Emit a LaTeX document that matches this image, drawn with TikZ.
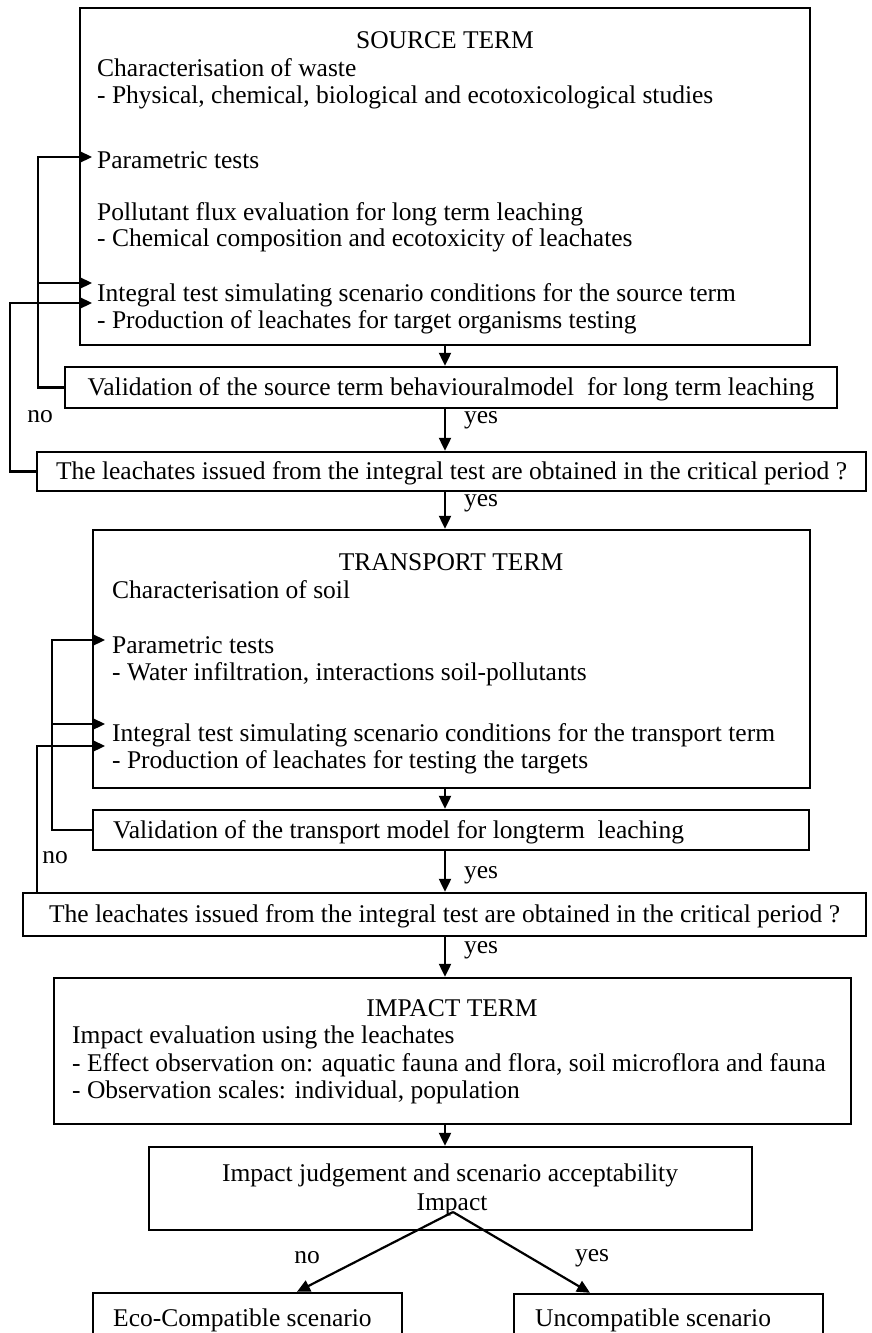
\documentclass[tikz,border=0pt]{standalone}
\usepackage{fontspec}
\setmainfont{Liberation Serif}
\usetikzlibrary{arrows.meta,fit,calc}

\begin{document}
\begin{tikzpicture}[x=1pt,y=-1pt,
  box/.style={draw, line width=2.4pt, inner sep=0pt},
  txt/.style={anchor=base west, inner sep=0pt, font=\fontsize{25.5}{30}\selectfont},
  ctxt/.style={anchor=base, inner sep=0pt, font=\fontsize{25.5}{30}\selectfont},
  lbl/.style={anchor=center, inner sep=0pt, font=\fontsize{25.5}{30}\selectfont},
  arr/.style={line width=2.2pt, -{Triangle[length=13pt,width=12pt]}}]

\clip (0,0) rectangle (872,1333);
\useasboundingbox (0,0) rectangle (872,1333);

% ---------- source term ----------
\node[box, fit={(80,8) (810,345)}] (src) {};
\node[ctxt] (s0) at (445,48) {SOURCE TERM};
\node[txt] (s1) at (97,76) {Characterisation of waste};
\node[txt] (s2) at (97,103) {- Physical, chemical, biological and ecotoxicological studies};
\node[txt] (s3) at (97,168) {Parametric tests};
\node[txt] (s4) at (97,220) {Pollutant flux evaluation for long term leaching};
\node[txt] (s5) at (97,246) {- Chemical composition and ecotoxicity of leachates};
\node[txt] (s6) at (97,301) {Integral test simulating scenario conditions for the source term};
\node[txt] (s7) at (97,328) {- Production of leachates for target organisms testing};

\node[box, fit={(65,367) (837,408)}] (val1) {};
\node[ctxt] (v1) at (val1.center) [yshift=-8pt] {Validation of the source term behaviouralmodel\ \ for long term leaching};

\node[box, fit={(37,452) (866,491)}] (crit1) {};
\node[ctxt] (c1) at (crit1.center) [yshift=-8pt] {The leachates issued from the integral test are obtained in the critical period ?};

% ---------- transport term ----------
\node[box, fit={(93,530) (810,788)}] (trn) {};
\node[ctxt] (r0) at (451,570) {TRANSPORT TERM};
\node[txt] (r1) at (112,598) {Characterisation of soil};
\node[txt] (r2) at (112,653) {Parametric tests};
\node[txt] (r3) at (112,680) {- Water infiltration, interactions soil-pollutants};
\node[txt] (r4) at (112,741) {Integral test simulating scenario conditions for the transport term};
\node[txt] (r5) at (112,768) {- Production of leachates for testing the targets};

\node[box, fit={(93,810) (809,850)}] (val2) {};
\node[txt] (v2) at (113,838) {Validation of the transport model for longterm\ \ leaching};

\node[box, fit={(23,893) (866,936)}] (crit2) {};
\node[ctxt] (c2) at (crit2.center) [yshift=-8pt] {The leachates issued from the integral test are obtained in the critical period ?};

% ---------- impact term ----------
\node[box, fit={(54,978) (851,1124)}] (imp) {};
\node[ctxt] (i0) at (452,1016) {IMPACT TERM};
\node[txt] (i1) at (72,1043) {Impact evaluation using the leachates};
\node[txt] (i2) at (72,1071) {- Effect observation on: aquatic fauna and flora, soil microflora and fauna};
\node[txt] (i3) at (72,1098) {- Observation scales: individual, population};

\node[box, fit={(149,1147) (752,1230)}] (jdg) {};
\node[ctxt] (j1) at (450,1181) {Impact judgement and scenario acceptability};
\node[ctxt] (j2) at (452,1210) {Impact};

\node[box, fit={(93,1293) (402,1350)}] (eco) {};
\node[txt] (e1) at (113,1326) {Eco-Compatible scenario};
\node[box, fit={(514,1294) (823,1350)}] (unc) {};
\node[txt] (u1) at (535,1326) {Uncompatible scenario};

% ---------- main flow ----------
\coordinate (ax) at (445,0);
\draw[arr] (src.south -| ax) -- (val1.north -| ax);
\draw[arr] (val1.south -| ax) -- (crit1.north -| ax);
\node[lbl] (y1) at (481,420) {yes};
\draw[arr] (crit1.south -| ax) -- (trn.north -| ax);
\node[lbl] (y2) at (481,503) {yes};
\draw[arr] (trn.south -| ax) -- (val2.north -| ax);
\draw[arr] (val2.south -| ax) -- (crit2.north -| ax);
\node[lbl] (y3) at (481,875) {yes};
\draw[arr] (crit2.south -| ax) -- (imp.north -| ax);
\node[lbl] (y4) at (481,950) {yes};
\draw[arr] (imp.south -| ax) -- (jdg.north -| ax);

% ---------- feedback loops, source term ----------
\coordinate (l1) at (38,0);
\coordinate (l2) at (10,0);
\coordinate (t1) at (92,157);
\coordinate (t2) at (92,283);
\coordinate (t3) at (92,303);
\draw[arr] (val1.west) -- (val1.west -| l1) |- (t1);
\draw[arr] (t2 -| l1) -- (t2);
\draw[arr] (crit1.west) -- (crit1.west -| l2) |- (t3);
\node[lbl] (n1) at (40,417) {no};

% ---------- feedback loops, transport term ----------
\coordinate (l3) at (52,0);
\coordinate (l4) at (37,0);
\coordinate (t4) at (105,640);
\coordinate (t5) at (105,724);
\coordinate (t6) at (105,746);
\draw[arr] (val2.west) -- (val2.west -| l3) |- (t4);
\draw[arr] (t5 -| l3) -- (t5);
\draw[arr] (crit2.north -| l4) |- (t6);
\node[lbl] (n2) at (55,858) {no};

% ---------- outcome ----------
\coordinate (fork) at (453,1212);
\coordinate (ea) at (297,0);
\coordinate (ua) at (590,0);
\draw[arr] (fork) -- (eco.north -| ea);
\draw[arr] (fork) -- (unc.north -| ua);
\node[lbl] (n3) at (307,1258) {no};
\node[lbl] (y5) at (592,1258) {yes};
\end{tikzpicture}
\end{document}
